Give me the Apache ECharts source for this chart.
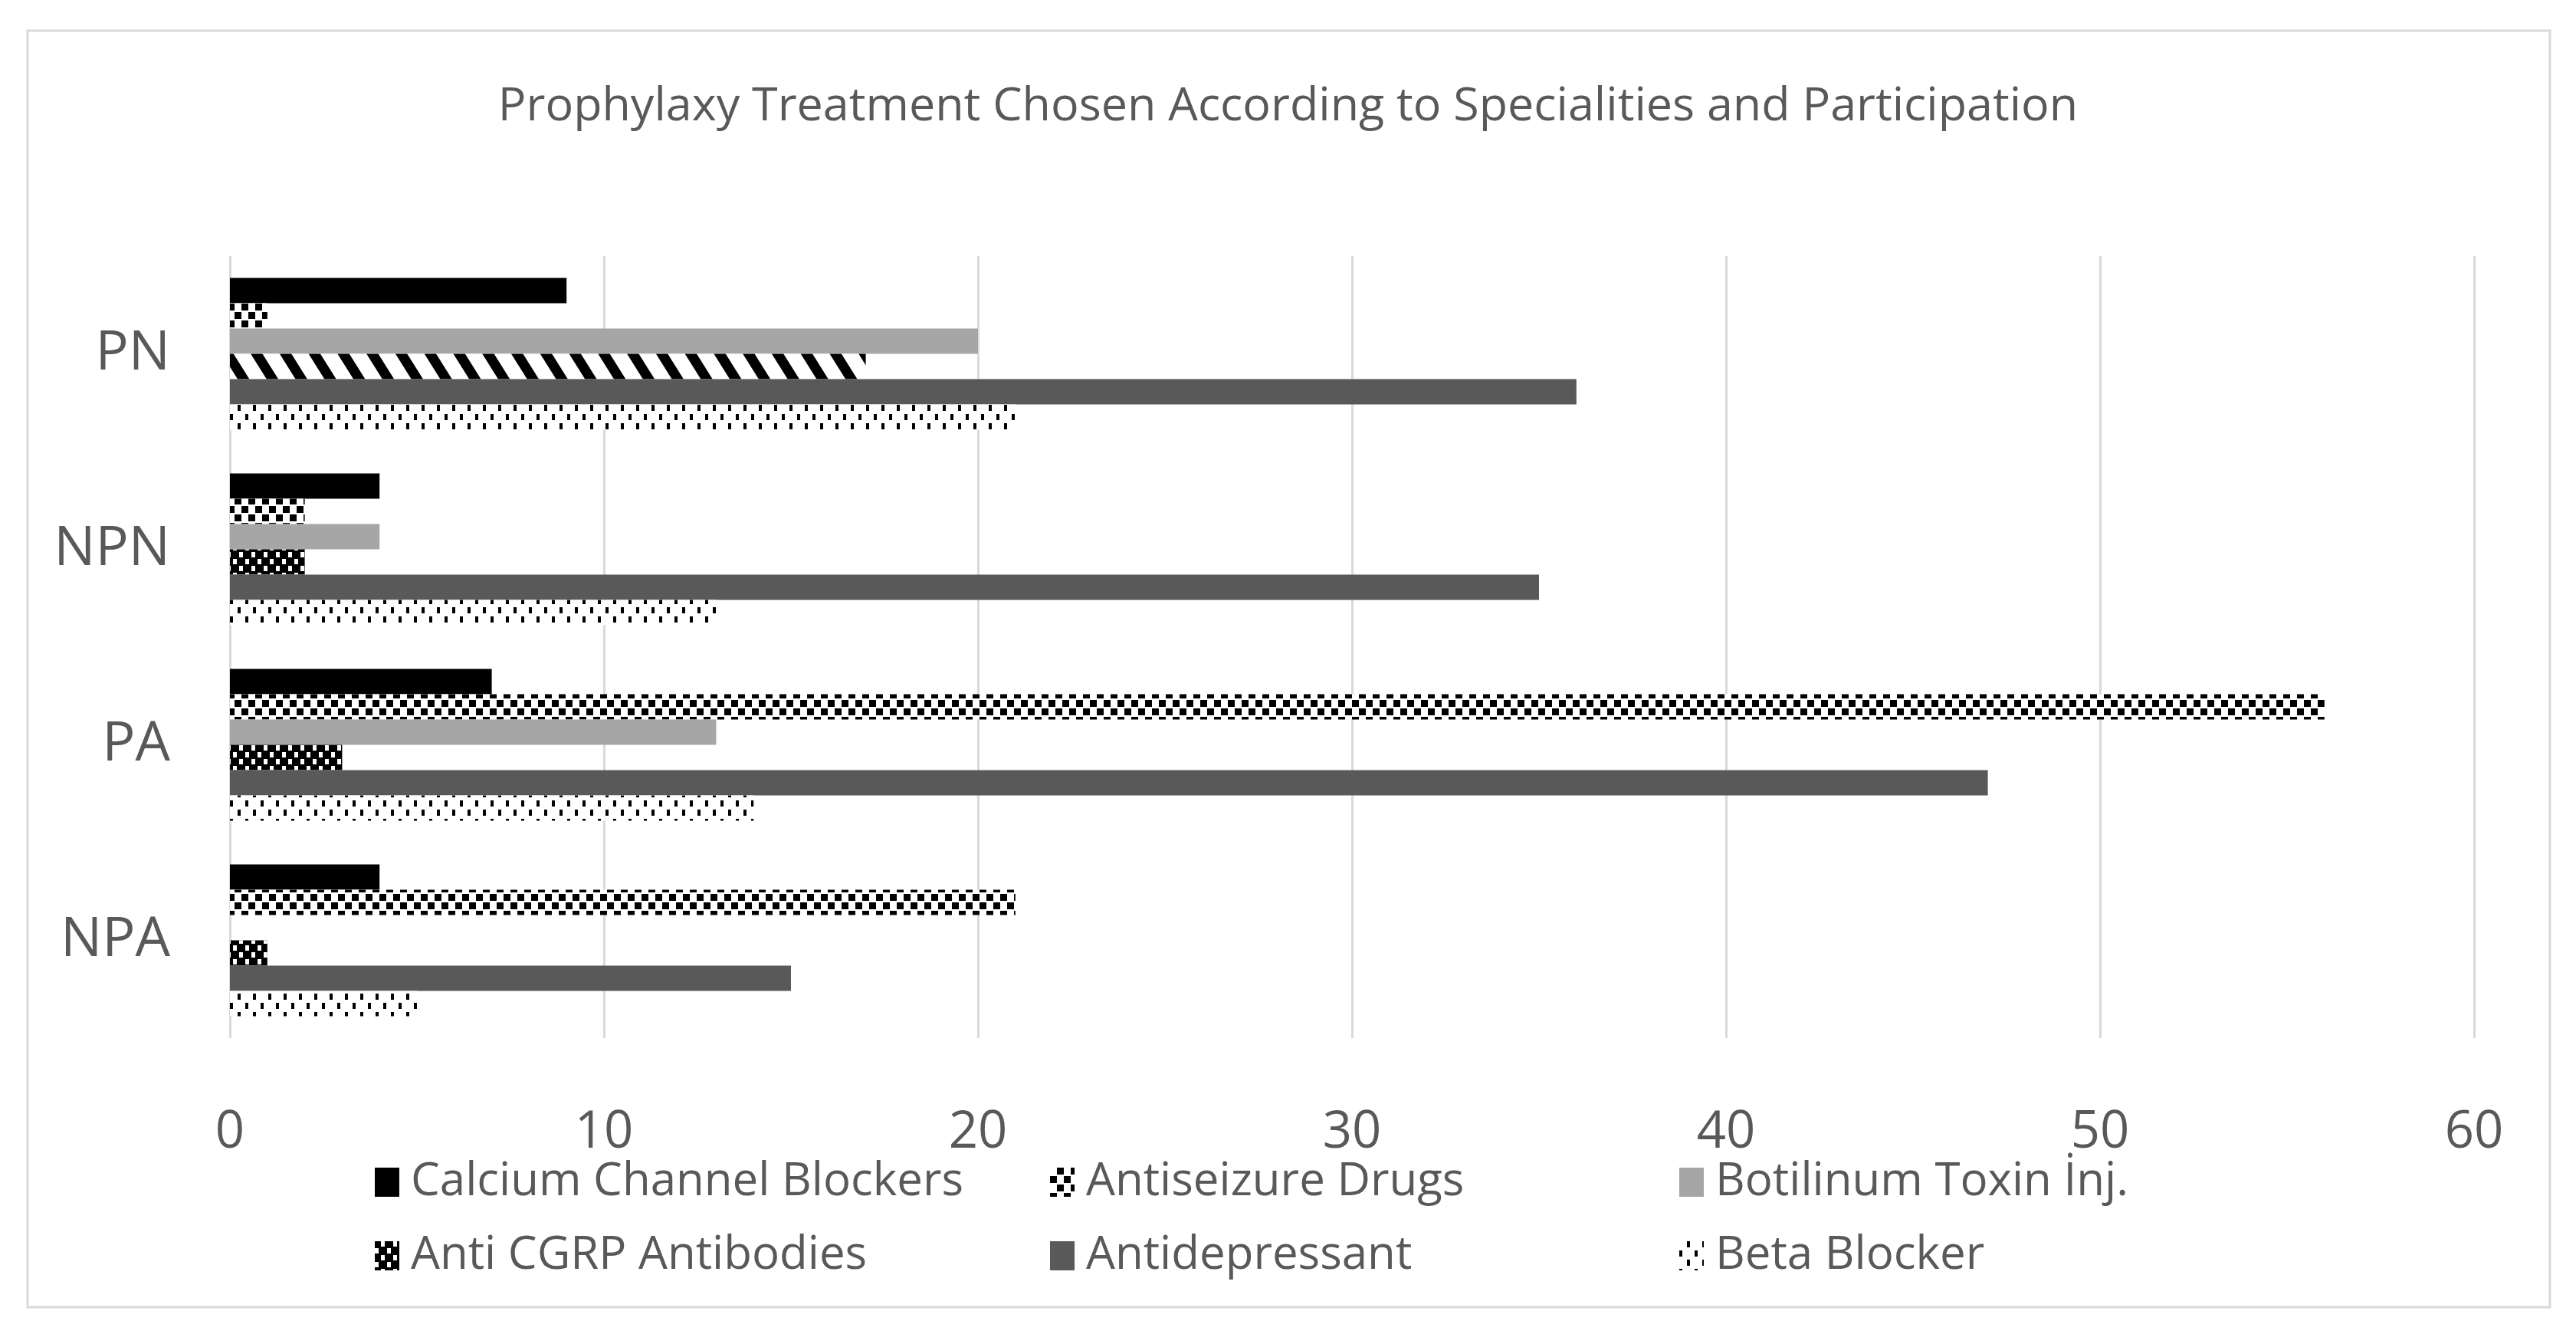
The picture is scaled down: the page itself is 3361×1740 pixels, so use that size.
<!DOCTYPE html>
<html>
<head>
<meta charset="utf-8">
<script src="https://cdn.jsdelivr.net/npm/echarts@6/dist/echarts.min.js"></script>
<style>
html,body{margin:0;padding:0;background:#fff;}
#chart{width:3361px;height:1740px;}
</style>
</head>
<body>
<div id="chart"></div>
<script>
const titleText = 'Prophylaxy Treatment Chosen According to Specialities and Participation';
const categories = ['PN', 'NPN', 'PA', 'NPA'];
const seriesNames = ['Calcium Channel Blockers', 'Antiseizure Drugs', 'Botilinum Toxin İnj.', 'Anti CGRP Antibodies', 'Antidepressant', 'Beta Blocker'];
const calcium = [9, 4, 7, 4];
const antiseizure = [1, 2, 56, 21];
const botox = [20, 4, 13, 0];
const cgrp = [17, 2, 3, 1];
const antidepressant = [36, 35, 47, 15];
const beta = [21, 13, 14, 5];
const xTicks = [0, 10, 20, 30, 40, 50, 60];

const FONT = '"Open Sans", "Noto Sans", sans-serif';
const TXT = '#595959';

const decalChecker = { color: '#000', symbol: 'rect', symbolSize: 1, dashArrayX: [[9, 9], [0, 9, 9, 0]], dashArrayY: [9, 2] };
const decalCgrp = { color: '#fff', symbol: 'rect', symbolSize: 1, dashArrayX: [[5, 11], [0, 8, 5, 3]], dashArrayY: [7, 1.5] };
const decalDots = { color: '#000', symbol: 'rect', symbolSize: 1, dashArrayX: [[4, 16], [0, 10, 4, 6]], dashArrayY: [8, 4] };
const decalDiag = { color: '#000', symbol: 'rect', symbolSize: 1, dashArrayX: [13, 19], dashArrayY: [10, 0], rotation: -0.56 };

const styles = [
  { color: '#000000' },
  { color: '#ffffff', decal: decalChecker },
  { color: '#a6a6a6' },
  { color: '#000000', decal: decalCgrp },
  { color: '#595959' },
  { color: '#ffffff', decal: decalDots }
];
const values = [calcium, antiseizure, botox, cgrp, antidepressant, beta];

const series = seriesNames.map((name, i) => ({
  name: name,
  type: 'bar',
  barWidth: 33,
  barGap: '0%',
  itemStyle: styles[i],
  data: values[i].map((v, j) => {
    if (i === 3 && j === 0) {
      return { value: v, itemStyle: { color: '#ffffff', decal: decalDiag } };
    }
    return v;
  })
}));

const legendCommon = {
  orient: 'vertical',
  icon: 'rect',
  itemWidth: 32,
  itemHeight: 38,
  itemGap: 54,
  textStyle: { fontFamily: FONT, fontSize: 60, color: TXT, padding: [0, 0, 0, 10] },
  top: 1507,
  itemGap: 36,
  selectedMode: false
};

const chart = echarts.init(document.getElementById('chart'));
chart.setOption({
  backgroundColor: '#ffffff',
  animation: false,
  title: {
    text: titleText,
    left: 'center',
    top: 104,
    textStyle: { fontFamily: FONT, fontSize: 61, fontWeight: 'normal', color: TXT }
  },
  graphic: [{
    type: 'rect',
    shape: { x: 36, y: 40, width: 3291, height: 1665 },
    style: { fill: 'none', stroke: '#d9d9d9', lineWidth: 3 },
    silent: true
  }],
  legend: [
    Object.assign({}, legendCommon, { left: 484, data: [seriesNames[0], seriesNames[3]] }),
    Object.assign({}, legendCommon, { left: 1365, data: [seriesNames[1], seriesNames[4]] }),
    Object.assign({}, legendCommon, { left: 2186, data: [seriesNames[2], seriesNames[5]] })
  ],
  grid: { left: 300, right: 133, top: 334, bottom: 386, containLabel: false },
  xAxis: {
    type: 'value',
    min: 0,
    max: 60,
    interval: 10,
    axisLine: { show: false },
    axisTick: { show: false },
    splitLine: { show: true, lineStyle: { color: '#d9d9d9', width: 3 } },
    axisLabel: {
      margin: 90,
      fontFamily: FONT,
      fontSize: 67,
      color: TXT,
      formatter: (v) => xTicks.includes(v) ? String(v) : ''
    }
  },
  yAxis: {
    type: 'category',
    inverse: true,
    data: categories,
    axisLine: { show: false },
    axisTick: { show: false },
    splitLine: { show: false },
    axisLabel: { margin: 78, fontFamily: FONT, fontSize: 72, color: TXT }
  },
  series: series
});
</script>
</body>
</html>
